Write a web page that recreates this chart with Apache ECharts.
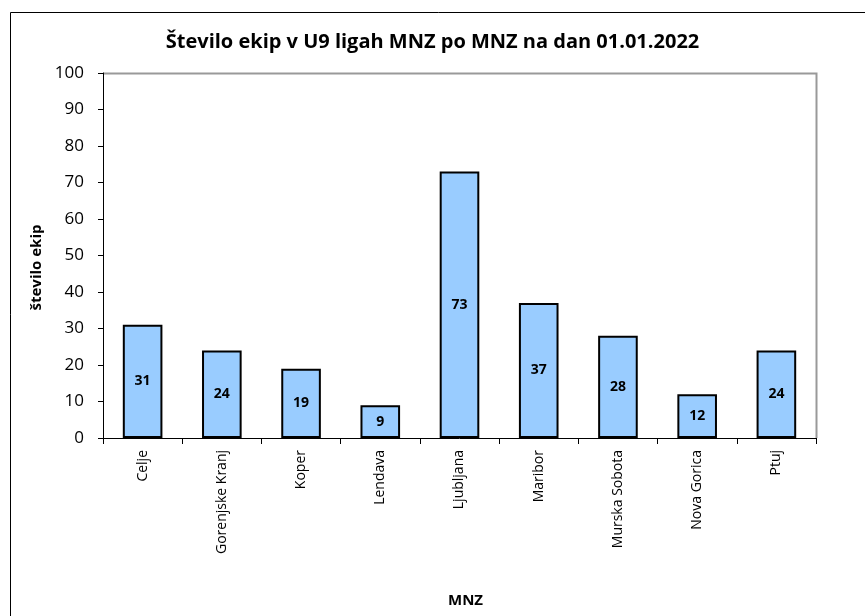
<!DOCTYPE html>
<html>
<head>
<meta charset="utf-8">
<script src="https://cdn.jsdelivr.net/npm/echarts@6/dist/echarts.min.js"></script>
<style>
  html, body { margin: 0; padding: 0; background: #fff; }
  #chart { width: 865px; height: 616px; }
</style>
</head>
<body>
<div id="chart"></div>
<script>
// podatki
const categories = ['Celje', 'Gorenjske Kranj', 'Koper', 'Lendava', 'Ljubljana', 'Maribor', 'Murska Sobota', 'Nova Gorica', 'Ptuj'];
const teamCounts = [31, 24, 19, 9, 73, 37, 28, 12, 24];
const yTicks = [0, 10, 20, 30, 40, 50, 60, 70, 80, 90, 100];

const font = '"Open Sans", "Noto Sans", sans-serif';

let myChart = echarts.init(document.getElementById('chart'));

myChart.setOption({
  animation: false,
  textStyle: { fontFamily: font },
  graphic: [{
    type: 'rect',
    shape: { x: 10.5, y: 12.5, width: 900, height: 700 },
    style: { fill: null, stroke: '#000', lineWidth: 1 },
    z: -1
  }, {
    // desni in zgornji rob risalne površine
    type: 'polyline',
    shape: { points: [[103, 73.5], [816.5, 73.5], [816.5, 438]] },
    style: { stroke: '#999', lineWidth: 2, fill: null }
  }],
  title: {
    text: 'Število ekip v U9 ligah MNZ po MNZ na dan 01.01.2022',
    left: 'center',
    top: 27,
    textStyle: { fontFamily: font, fontSize: 20, fontWeight: 'bold', color: '#000' }
  },
  grid: { left: 103, right: 49, top: 73, bottom: 178, containLabel: false },
  xAxis: {
    type: 'category',
    data: categories,
    name: 'MNZ',
    nameLocation: 'middle',
    nameGap: 155,
    nameTextStyle: { fontFamily: font, fontSize: 15, fontWeight: 'bold', color: '#000', padding: [0, 0, 0, 12] },
    axisLine: { lineStyle: { color: '#000', width: 1 } },
    axisTick: { show: true, length: 6, lineStyle: { color: '#000' } },
    axisLabel: { rotate: 90, fontSize: 14, color: '#000', margin: 12, fontFamily: font }
  },
  yAxis: {
    type: 'value',
    min: yTicks[0],
    max: yTicks[yTicks.length - 1],
    interval: 10,
    name: 'število ekip',
    nameLocation: 'middle',
    nameGap: 58,
    nameTextStyle: { fontFamily: font, fontSize: 15, fontWeight: 'bold', color: '#000', padding: [0, 24, 0, 0] },
    axisLine: { show: true, lineStyle: { color: '#000', width: 1 } },
    axisTick: { show: true, length: 5, inside: false, lineStyle: { color: '#000' } },
    splitLine: { show: false },
    axisLabel: { fontSize: 17, color: '#000', margin: 19, fontFamily: font }
  },
  series: [{
    type: 'bar',
    data: teamCounts,
    barWidth: '50%',
    itemStyle: { color: '#99CCFF', borderColor: '#000', borderWidth: 2 },
    label: {
      show: true,
      position: 'inside',
      fontFamily: font,
      fontSize: 14,
      fontWeight: 'bold',
      color: '#000'
    }
  }]
});
</script>
</body>
</html>
